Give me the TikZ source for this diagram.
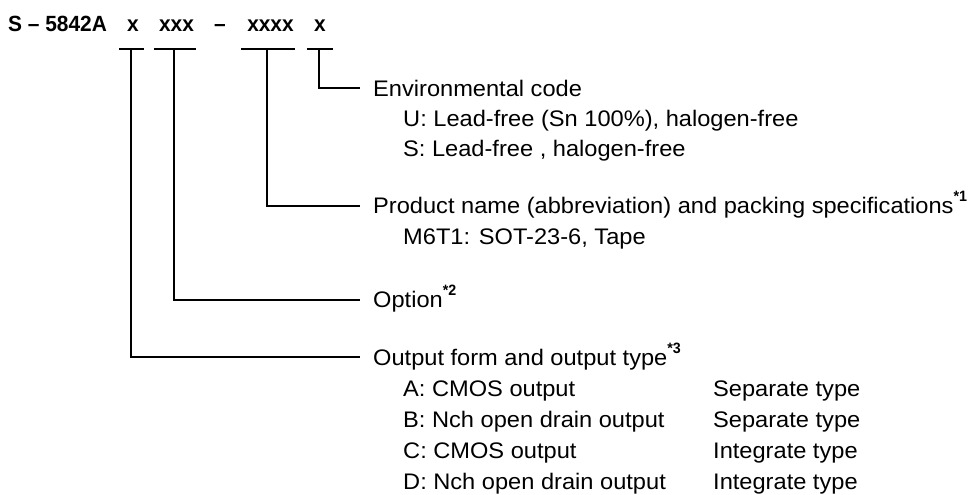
\documentclass[tikz,border=0pt]{standalone}
\usepackage{fontspec}
\setmainfont{Liberation Sans}[FakeStretch=1.05]
\newfontfamily\titlefont{Liberation Sans}[FakeStretch=0.95]
\newcommand\fnmark[1]{\raisebox{0.5em}{\titlefont\bfseries\fontsize{15}{15}\selectfont #1}}
\begin{document}
\begin{tikzpicture}[x=1pt,y=-1pt,
  lbl/.style={anchor=base west, inner sep=0pt, font=\fontsize{22.5}{24}\selectfont},
  ttl/.style={anchor=base, inner sep=0pt, font=\titlefont\bfseries\fontsize{22}{24}\selectfont},
  wire/.style={draw=black, line width=2.4pt, line join=miter}]
\useasboundingbox (0,0) rectangle (978,495);
% title
\node[ttl, anchor=base west] (t0) at (8,32) {S – 5842A};
\node[ttl] (t1) at (133,32) {x};
\node[ttl] (t2) at (176.5,32) {xxx};
\node[ttl] (t3) at (220,32) {–};
\node[ttl] (t4) at (270.5,32) {xxxx};
\node[ttl] (t5) at (320,32) {x};
% bars
\coordinate (b1l) at (119,49); \coordinate (b1r) at (144,49); \coordinate (b1) at (131,49);
\coordinate (b2l) at (154,49); \coordinate (b2r) at (196,49); \coordinate (b2) at (174,49);
\coordinate (b3l) at (241,49); \coordinate (b3r) at (295,49); \coordinate (b3) at (267,49);
\coordinate (b4l) at (307,49); \coordinate (b4r) at (333,49); \coordinate (b4) at (319,49);
\draw[wire] (b1l) -- (b1r);
\draw[wire] (b2l) -- (b2r);
\draw[wire] (b3l) -- (b3r);
\draw[wire] (b4l) -- (b4r);
% ends
\coordinate (e4) at (360,88);
\coordinate (e3) at (360,206);
\coordinate (e2) at (360,300);
\coordinate (e1) at (360,357);
\draw[wire] (b4) |- (e4);
\draw[wire] (b3) |- (e3);
\draw[wire] (b2) |- (e2);
\draw[wire] (b1) |- (e1);
% labels
\node[lbl] (env) at (373,96) {Environmental code};
\node[lbl] (envu) at (403,126) {U: Lead-free (Sn 100\%), halogen-free};
\node[lbl] (envs) at (403,156) {S: Lead-free , halogen-free};
\node[lbl] (prod) at (373,213) {Product name (abbreviation) and packing specifications\fnmark{*1}};
\node[lbl] (prodm) at (403,244) {M6T1: SOT-23-6, Tape};
\node[lbl] (opt) at (373,307) {Option\fnmark{*2}};
\node[lbl] (out) at (373,365) {Output form and output type\fnmark{*3}};
\node[lbl] (oa) at (403,396) {A: CMOS output};
\node[lbl] (ob) at (403,427) {B: Nch open drain output};
\node[lbl] (oc) at (403,458) {C: CMOS output};
\node[lbl] (od) at (403,489) {D: Nch open drain output};
\node[lbl] (ta) at (713,396) {Separate type};
\node[lbl] (tb) at (713,427) {Separate type};
\node[lbl] (tc) at (713,458) {Integrate type};
\node[lbl] (td) at (713,489) {Integrate type};
\end{tikzpicture}
\end{document}
